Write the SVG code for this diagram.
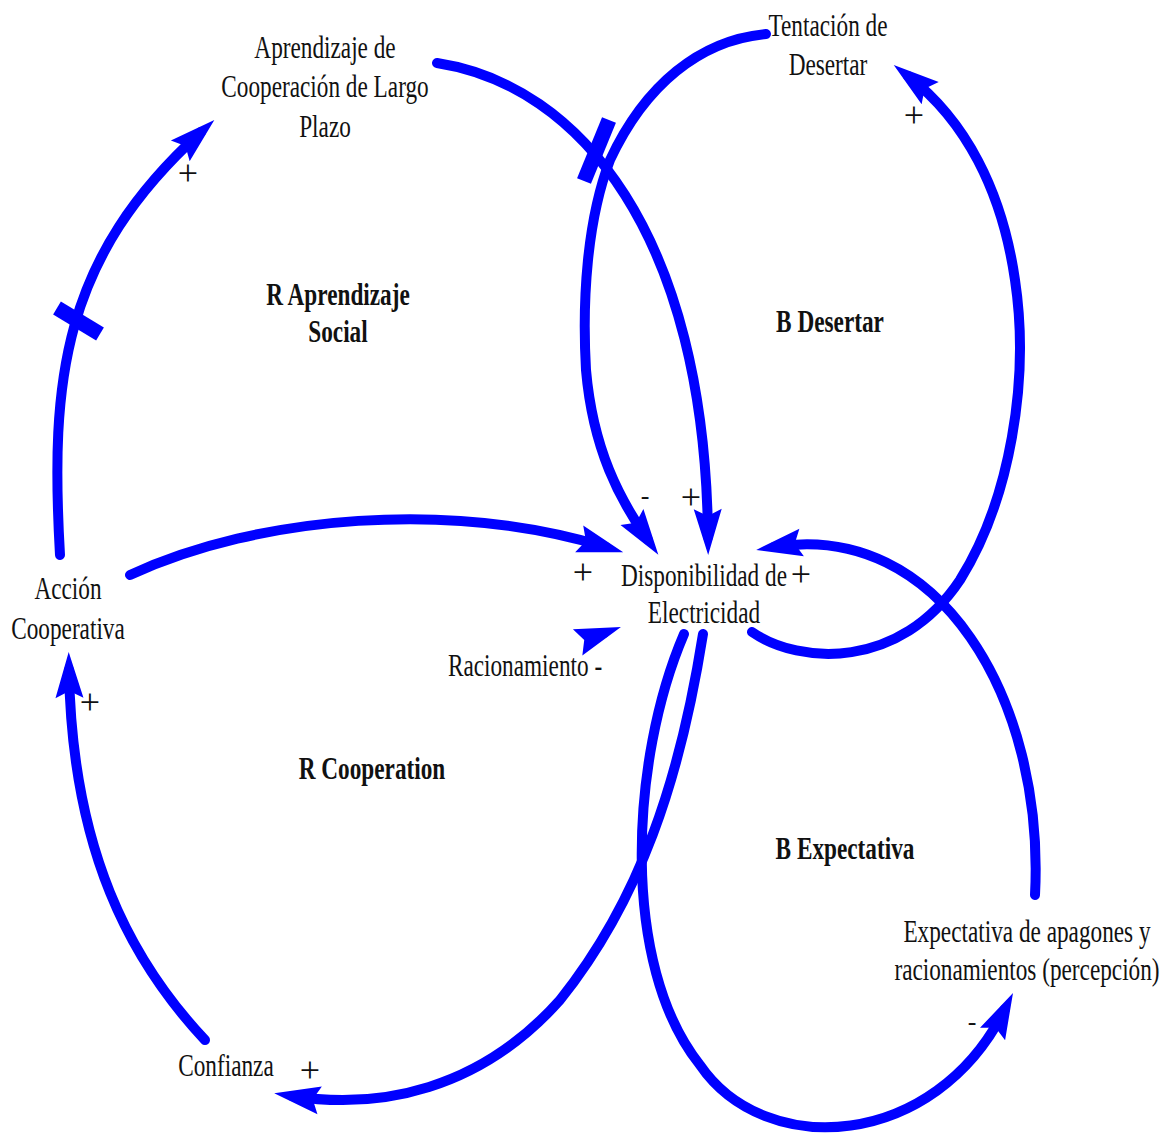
<svg xmlns="http://www.w3.org/2000/svg" width="1171" height="1140" viewBox="0 0 1171 1140">
  <defs>
    <style>
      .lbl{font-family:"Liberation Serif","Times New Roman",serif;font-size:31px;fill:#111111;text-anchor:middle}
      .loop{font-weight:bold}
      .sign{font-family:"Liberation Serif","Times New Roman",serif;font-size:36px;fill:#111111;text-anchor:middle}
      .neg{font-size:26px}
      .link{fill:none;stroke:#0000ff;stroke-width:10;stroke-linecap:round;marker-end:url(#head)}
      .delay{stroke:#0000ff;stroke-width:15;stroke-linecap:butt}
    </style>
    <!-- solid causal-link arrowhead; the line ends inside it, the tip sits 18px further on -->
    <marker id="head" markerUnits="userSpaceOnUse" viewBox="-30 -16 50 32" markerWidth="50" markerHeight="32" refX="0" refY="0" orient="auto">
      <path d="M-28,-14 L18,0 L-28,14 L-21,0 z" fill="#0000ff"/>
    </marker>
  </defs>
  <rect width="1171" height="1140" fill="#ffffff"/>

  <!-- causal links -->
  <g id="connectors">
    <!-- Accion Cooperativa -> Aprendizaje de Cooperacion (delayed) -->
    <path class="link" d="M60,555 C50,380 62,258 201,132"/>
    <line class="delay" x1="57" y1="308" x2="100" y2="334"/>
    <!-- Aprendizaje -> Disponibilidad (delayed) -->
    <path class="link" d="M437,63 C580,85 705,235 708,537"/>
    <line class="delay" x1="609" y1="120" x2="584" y2="181"/>
    <!-- Tentacion de Desertar -> Disponibilidad -->
    <path class="link" d="M766,34 C700,40 645,85 610,160 C587,220 582,300 586,370 C593,450 620,500 648,540"/>
    <!-- Disponibilidad -> Tentacion de Desertar -->
    <path class="link" d="M752,632 C800,665 900,670 960,580 C1010,500 1030,380 1015,280 C1002,190 965,120 908,76"/>
    <!-- Accion Cooperativa -> Disponibilidad -->
    <path class="link" d="M130,575 C260,515 450,500 606,547"/>
    <!-- Racionamiento -> Disponibilidad -->
    <path class="link" d="M590,638 L604,633"/>
    <!-- Disponibilidad -> Confianza -->
    <path class="link" d="M703,634 C680,780 640,900 560,1000 C480,1090 380,1110 292,1096"/>
    <!-- Confianza -> Accion Cooperativa -->
    <path class="link" d="M205,1040 C130,960 72,850 69,670"/>
    <!-- Disponibilidad -> Expectativa de apagones -->
    <path class="link" d="M684,634 C630,760 620,965 700,1065 C765,1160 935,1150 1005,1009"/>
    <!-- Expectativa de apagones -> Disponibilidad -->
    <path class="link" d="M1035,895 C1045,700 940,520 774,547"/>
  </g>

  <!-- link polarities -->
  <g id="polarities">
    <text class="sign" x="188" y="185">+</text>
    <text class="sign" x="914" y="127">+</text>
    <text class="sign neg" x="645" y="504">-</text>
    <text class="sign" x="691" y="509">+</text>
    <text class="sign" x="583" y="584">+</text>
    <text class="sign" x="801" y="586">+</text>
    <text class="sign" x="90" y="714">+</text>
    <text class="sign neg" x="972" y="1030">-</text>
    <text class="sign" x="310" y="1082">+</text>
  </g>

  <!-- variables -->
  <g id="n-aprendizaje" transform="translate(325,0) scale(0.75,1)">
    <text class="lbl" x="0" y="58">Aprendizaje de</text>
    <text class="lbl" x="0" y="97">Cooperación de Largo</text>
    <text class="lbl" x="0" y="137">Plazo</text>
  </g>
  <g id="n-tentacion" transform="translate(828,0) scale(0.75,1)">
    <text class="lbl" x="0" y="36">Tentación de</text>
    <text class="lbl" x="0" y="75">Desertar</text>
  </g>
  <g id="n-accion" transform="translate(68,0) scale(0.75,1)">
    <text class="lbl" x="0" y="599">Acción</text>
    <text class="lbl" x="0" y="639">Cooperativa</text>
  </g>
  <g id="n-disponibilidad" transform="translate(704,0) scale(0.75,1)">
    <text class="lbl" x="0" y="586">Disponibilidad de</text>
    <text class="lbl" x="0" y="623">Electricidad</text>
  </g>
  <g id="n-racionamiento" transform="translate(525,0) scale(0.75,1)">
    <text class="lbl" x="0" y="676">Racionamiento -</text>
  </g>
  <g id="n-confianza" transform="translate(226,0) scale(0.75,1)">
    <text class="lbl" x="0" y="1076">Confianza</text>
  </g>
  <g id="n-expectativa" transform="translate(1027,0) scale(0.75,1)">
    <text class="lbl" x="0" y="942">Expectativa de apagones y</text>
    <text class="lbl" x="0" y="980">racionamientos (percepción)</text>
  </g>

  <!-- loop identifiers -->
  <g id="loops">
    <g transform="translate(338,0) scale(0.75,1)">
      <text class="lbl loop" x="0" y="305">R Aprendizaje</text>
      <text class="lbl loop" x="0" y="342">Social</text>
    </g>
    <g transform="translate(830,0) scale(0.75,1)">
      <text class="lbl loop" x="0" y="332">B Desertar</text>
    </g>
    <g transform="translate(372,0) scale(0.75,1)">
      <text class="lbl loop" x="0" y="779">R Cooperation</text>
    </g>
    <g transform="translate(845,0) scale(0.75,1)">
      <text class="lbl loop" x="0" y="859">B Expectativa</text>
    </g>
  </g>
</svg>
